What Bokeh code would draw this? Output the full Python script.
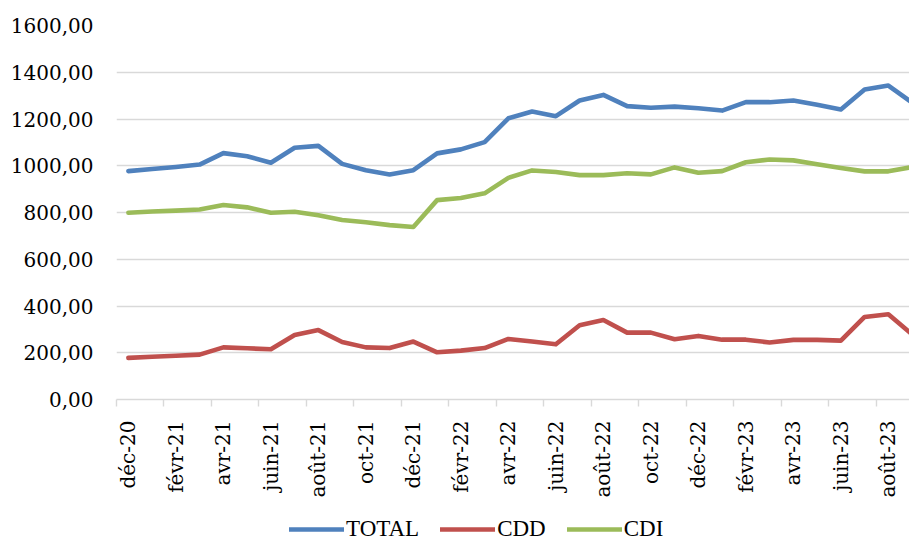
import math
from bokeh.plotting import figure
from bokeh.layouts import column
from bokeh.models import Range1d, FixedTicker, Legend, LegendItem
from bokeh.embed import file_html
from bokeh.resources import INLINE

months = ["déc-20", "janv-21", "févr-21", "mars-21", "avr-21", "mai-21", "juin-21",
          "juil-21", "août-21", "sept-21", "oct-21", "nov-21", "déc-21", "janv-22",
          "févr-22", "mars-22", "avr-22", "mai-22", "juin-22", "juil-22", "août-22",
          "sept-22", "oct-22", "nov-22", "déc-22", "janv-23", "févr-23", "mars-23",
          "avr-23", "mai-23", "juin-23", "juil-23", "août-23", "sept-23"]

total = [977, 986, 995, 1005, 1054, 1041, 1013, 1077, 1085, 1008, 981, 963, 981,
         1053, 1070, 1101, 1203, 1232, 1212, 1279, 1303, 1255, 1248, 1253, 1246,
         1236, 1272, 1272, 1279, 1261, 1241, 1326, 1343, 1270]
cdd = [178, 183, 187, 192, 223, 219, 215, 276, 297, 246, 223, 220, 248, 202, 209,
       220, 259, 248, 236, 318, 340, 286, 286, 258, 272, 256, 256, 244, 255, 255,
       252, 353, 365, 279]
cdi = [799, 804, 808, 813, 832, 822, 799, 803, 788, 768, 758, 746, 738, 853, 862,
       882, 948, 980, 973, 960, 960, 968, 963, 993, 970, 977, 1015, 1027, 1023,
       1006, 990, 976, 976, 994]

x_tick_labels = ["déc-20", "févr-21", "avr-21", "juin-21", "août-21", "oct-21",
                 "déc-21", "févr-22", "avr-22", "juin-22", "août-22", "oct-22",
                 "déc-22", "févr-23", "avr-23", "juin-23", "août-23"]
y_ticks = [0, 200, 400, 600, 800, 1000, 1200, 1400, 1600]
y_tick_labels = ["0,00", "200,00", "400,00", "600,00", "800,00", "1000,00",
                 "1200,00", "1400,00", "1600,00"]

series_names = ["TOTAL", "CDD", "CDI"]
series_colors = ["#4F81BD", "#C0504D", "#9BBB59"]

x = list(range(len(months)))
x_tick_pos = [months.index(m) for m in x_tick_labels]
series = [total, cdd, cdi]

p = figure(width=909, height=500, output_backend="svg", toolbar_location=None,
           x_range=Range1d(-0.5, 32.89), y_range=Range1d(0, 1600),
           min_border_left=116, min_border_right=0, min_border_top=25,
           min_border_bottom=101)
p.outline_line_color = None
p.background_fill_color = "white"
p.border_fill_color = "white"

GRID = "#d9d9d9"
TICK_FONT = "DejaVu Serif"

# y axis
p.yaxis.ticker = FixedTicker(ticks=y_ticks)
p.yaxis.major_label_overrides = {t: l for t, l in zip(y_ticks, y_tick_labels)}
p.yaxis.axis_line_color = None
p.yaxis.major_tick_line_color = None
p.yaxis.minor_tick_line_color = None
p.yaxis.major_label_standoff = 17
p.yaxis.major_label_text_font = TICK_FONT
p.yaxis.major_label_text_font_size = "20px"
p.yaxis.major_label_text_color = "#000000"

p.ygrid.ticker = FixedTicker(ticks=y_ticks)
p.ygrid.grid_line_color = GRID
p.ygrid.grid_line_width = 1.4
p.xgrid.grid_line_color = None

# x axis
p.xaxis.ticker = FixedTicker(ticks=x_tick_pos,
                             minor_ticks=[t - 0.5 for t in x_tick_pos])
p.xaxis.major_label_overrides = {t: l for t, l in zip(x_tick_pos, x_tick_labels)}
p.xaxis.major_label_orientation = math.pi / 2
p.xaxis.axis_line_color = GRID
p.xaxis.axis_line_width = 1.4
p.xaxis.major_tick_line_color = None
p.xaxis.minor_tick_line_color = GRID
p.xaxis.minor_tick_line_width = 1.4
p.xaxis.minor_tick_out = 7
p.xaxis.minor_tick_in = 0
p.xaxis.major_label_standoff = 14
p.xaxis.major_label_text_font = TICK_FONT
p.xaxis.major_label_text_font_size = "20px"
p.xaxis.major_label_text_color = "#000000"

kw = dict(line_width=4.6, line_join="round", line_cap="round")
for vals, color in zip(series, series_colors):
    p.line(x, vals, line_color=color, **kw)

# legend strip below the chart (its lines lie outside its visible range)
lg = figure(width=909, height=42, output_backend="svg", toolbar_location=None,
            x_range=Range1d(-3, -2), y_range=Range1d(0, 1),
            min_border_left=116, min_border_right=0, min_border_top=0,
            min_border_bottom=0)
lg.axis.visible = False
lg.grid.visible = False
lg.outline_line_color = None
items = []
for name, vals, color in zip(series_names, series, series_colors):
    r = lg.line(x, vals, line_color=color, **kw)
    items.append(LegendItem(label=name, renderers=[r]))
legend = Legend(items=items, orientation="horizontal", location=(173, 0),
                glyph_width=55, glyph_height=18, label_height=18,
                label_standoff=2, spacing=21, padding=0, margin=0,
                border_line_color=None, background_fill_alpha=0,
                label_text_font="Liberation Serif", label_text_font_size="23px",
                label_text_color="#000000")
lg.add_layout(legend)

open("out.html", "w").write(file_html(column(p, lg, spacing=0), INLINE))
